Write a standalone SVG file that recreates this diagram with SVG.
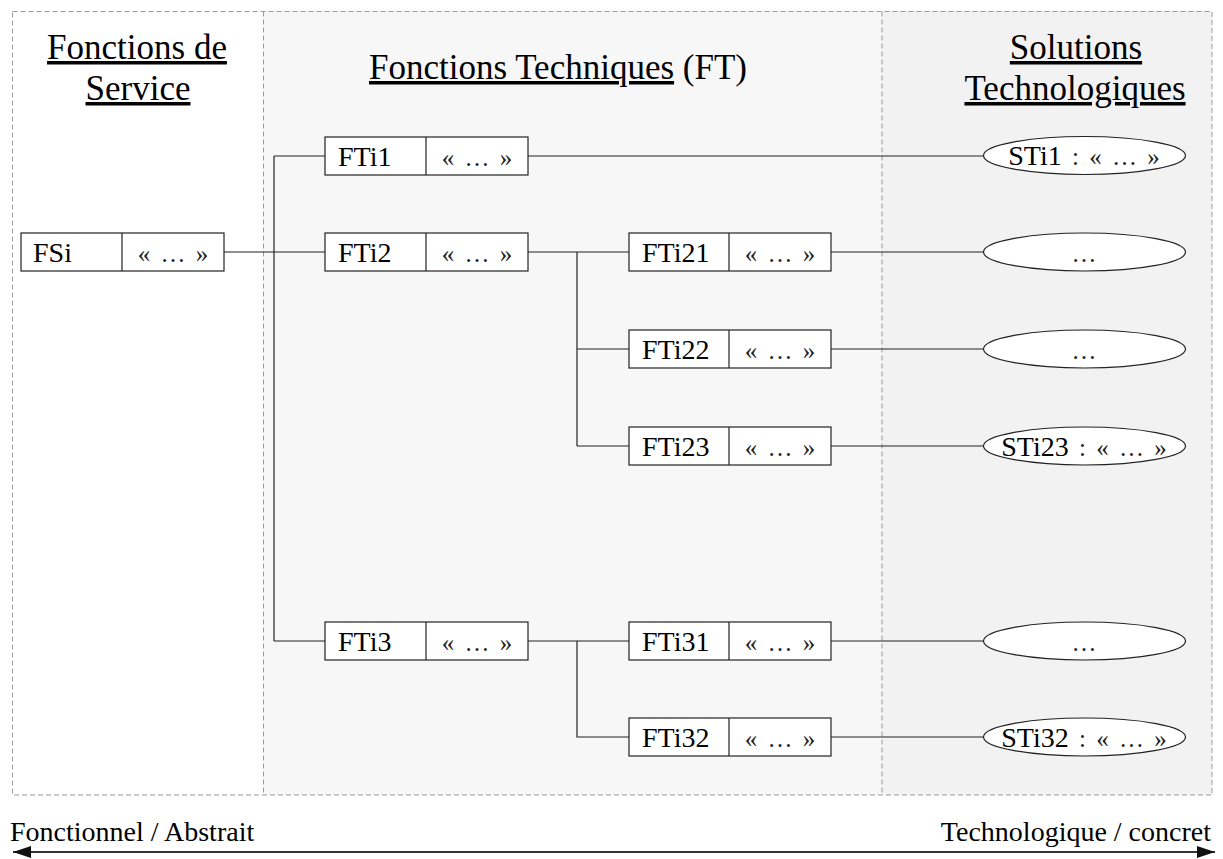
<svg xmlns="http://www.w3.org/2000/svg" width="1223" height="859" viewBox="0 0 1223 859">
<style>
text{font-family:"Liberation Serif","Times New Roman",serif;fill:#000}
.h{font-size:35px}
.t{font-size:28px}
.g{font-size:25px;fill:#222;word-spacing:4px}
.u{text-decoration:underline}
.box{fill:#fff;stroke:#222;stroke-width:1.2}
.ell{fill:#fff;stroke:#222;stroke-width:1.2}
.dash{fill:none;stroke:#9a9a9a;stroke-width:1;stroke-dasharray:5 3}
.c{fill:none;stroke:#222;stroke-width:1.2}
</style>
<defs>
<marker id="ah" markerUnits="userSpaceOnUse" markerWidth="18" markerHeight="12" viewBox="0 0 18 12" refX="18" refY="6" orient="auto-start-reverse">
<path d="M0,0 L18,6 L0,12 z" fill="#111"/>
</marker>
</defs>
<rect width="1223" height="859" fill="#fff"/>
<g id="columns">
<rect x="12" y="11" width="251.5" height="784" fill="#fff"/>
<rect x="263.5" y="11" width="618.5" height="784" fill="#f7f7f7"/>
<rect x="882" y="11" width="330" height="784" fill="#f2f2f2"/>
<rect class="dash" x="12.5" y="11.5" width="1199.5" height="783.5"/>
<line class="dash" x1="263.5" y1="11.5" x2="263.5" y2="795"/>
<line class="dash" x1="882" y1="11.5" x2="882" y2="795"/>
</g>
<g id="headings">
<text class="h u" x="137" y="59" text-anchor="middle">Fonctions de</text>
<text class="h u" x="138" y="100" text-anchor="middle">Service</text>
<text class="h" x="369" y="79"><tspan class="u">Fonctions Techniques</tspan> (FT)</text>
<text class="h u" x="1076" y="59" text-anchor="middle">Solutions</text>
<text class="h u" x="1075" y="100" text-anchor="middle">Technologiques</text>
</g>
<g id="connectors">
<path class="c" d="M224 252 H325"/>
<path class="c" d="M274 156 V641 M274 156 H325 M274 641 H325"/>
<path class="c" d="M528 156 H983"/>
<path class="c" d="M528 252 H629 M577 252 V446 M577 349 H629 M577 446 H629"/>
<path class="c" d="M831 252 H983 M831 349 H983 M831 446 H983"/>
<path class="c" d="M528 641 H629 M577 641 V737 H629"/>
<path class="c" d="M831 641 H983 M831 737 H983"/>
</g>
<g id="FSi">
<rect class="box" x="21" y="233" width="203" height="38"/>
<line class="c" x1="122" y1="233" x2="122" y2="271"/>
<text class="t" x="33" y="261.5">FSi</text>
<text class="g" x="173" y="261.5" text-anchor="middle">« … »</text>
</g>
<g id="FTi1">
<rect class="box" x="325" y="137" width="203" height="38"/>
<line class="c" x1="426" y1="137" x2="426" y2="175"/>
<text class="t" x="338" y="165.5">FTi1</text>
<text class="g" x="477" y="165.5" text-anchor="middle">« … »</text>
</g>
<g id="FTi2">
<rect class="box" x="325" y="233" width="203" height="38"/>
<line class="c" x1="426" y1="233" x2="426" y2="271"/>
<text class="t" x="338" y="261.5">FTi2</text>
<text class="g" x="477" y="261.5" text-anchor="middle">« … »</text>
</g>
<g id="FTi3">
<rect class="box" x="325" y="622" width="203" height="38"/>
<line class="c" x1="426" y1="622" x2="426" y2="660"/>
<text class="t" x="338" y="650.5">FTi3</text>
<text class="g" x="477" y="650.5" text-anchor="middle">« … »</text>
</g>
<g id="FTi21">
<rect class="box" x="629" y="233" width="202" height="38"/>
<line class="c" x1="729" y1="233" x2="729" y2="271"/>
<text class="t" x="642" y="261.5">FTi21</text>
<text class="g" x="780" y="261.5" text-anchor="middle">« … »</text>
</g>
<g id="FTi22">
<rect class="box" x="629" y="330" width="202" height="38"/>
<line class="c" x1="729" y1="330" x2="729" y2="368"/>
<text class="t" x="642" y="358.5">FTi22</text>
<text class="g" x="780" y="358.5" text-anchor="middle">« … »</text>
</g>
<g id="FTi23">
<rect class="box" x="629" y="427" width="202" height="38"/>
<line class="c" x1="729" y1="427" x2="729" y2="465"/>
<text class="t" x="642" y="455.5">FTi23</text>
<text class="g" x="780" y="455.5" text-anchor="middle">« … »</text>
</g>
<g id="FTi31">
<rect class="box" x="629" y="622" width="202" height="38"/>
<line class="c" x1="729" y1="622" x2="729" y2="660"/>
<text class="t" x="642" y="650.5">FTi31</text>
<text class="g" x="780" y="650.5" text-anchor="middle">« … »</text>
</g>
<g id="FTi32">
<rect class="box" x="629" y="718" width="202" height="38"/>
<line class="c" x1="729" y1="718" x2="729" y2="756"/>
<text class="t" x="642" y="746.5">FTi32</text>
<text class="g" x="780" y="746.5" text-anchor="middle">« … »</text>
</g>
<g id="STi1">
<ellipse class="ell" cx="1084.5" cy="155.5" rx="101" ry="19"/>
<text class="t" x="1084" y="165" text-anchor="middle">STi1<tspan class="g"> : « … »</tspan></text>
</g>
<g id="STi21">
<ellipse class="ell" cx="1084.5" cy="252" rx="101" ry="19"/>
<text class="g" x="1084" y="262" text-anchor="middle">…</text>
</g>
<g id="STi22">
<ellipse class="ell" cx="1084.5" cy="349" rx="101" ry="19"/>
<text class="g" x="1084" y="359" text-anchor="middle">…</text>
</g>
<g id="STi23">
<ellipse class="ell" cx="1084.5" cy="446" rx="101" ry="19"/>
<text class="t" x="1084" y="455.5" text-anchor="middle">STi23<tspan class="g"> : « … »</tspan></text>
</g>
<g id="STi31">
<ellipse class="ell" cx="1084.5" cy="641" rx="101" ry="19"/>
<text class="g" x="1084" y="651" text-anchor="middle">…</text>
</g>
<g id="STi32">
<ellipse class="ell" cx="1084.5" cy="737" rx="101" ry="19"/>
<text class="t" x="1084" y="746.5" text-anchor="middle">STi32<tspan class="g"> : « … »</tspan></text>
</g>
<g id="axis">
<line x1="13" y1="852" x2="1215" y2="852" stroke="#333" stroke-width="2" marker-start="url(#ah)" marker-end="url(#ah)"/>
<text class="t" x="10" y="841">Fonctionnel / Abstrait</text>
<text class="t" x="1211" y="841" text-anchor="end">Technologique / concret</text>
</g>
</svg>
